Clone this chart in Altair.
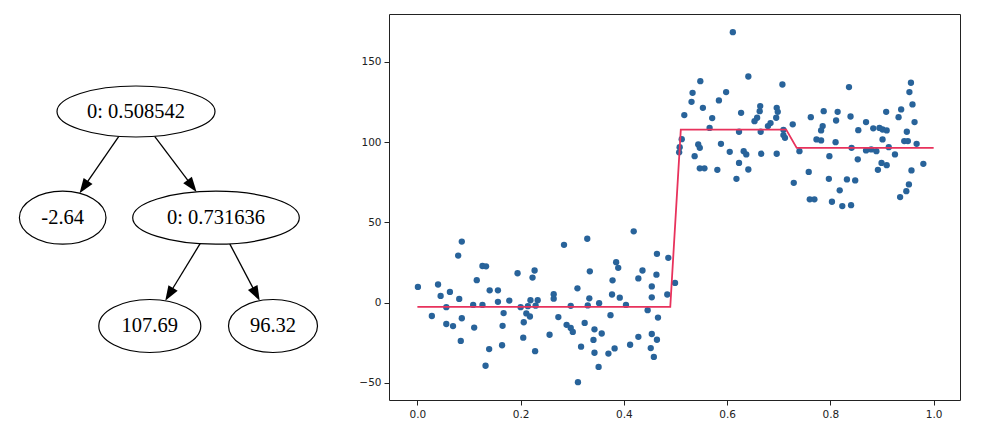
import math
import altair as alt
import pandas as pd

# ---------------- scatter data ----------------
left_x = [0.001, 0.028, 0.040, 0.045, 0.056, 0.056, 0.063, 0.069, 0.079, 0.081,
          0.086, 0.084, 0.086, 0.108, 0.110, 0.115, 0.126, 0.126, 0.133, 0.132,
          0.139, 0.140, 0.156, 0.156, 0.164, 0.167, 0.165, 0.178, 0.194, 0.200,
          0.205, 0.206, 0.211, 0.219, 0.223, 0.227, 0.218, 0.228, 0.233, 0.229,
          0.214, 0.256, 0.264, 0.264, 0.273, 0.284, 0.289, 0.297, 0.297, 0.301,
          0.310, 0.311, 0.317, 0.324, 0.329, 0.334, 0.333, 0.330, 0.343, 0.341,
          0.343, 0.352, 0.351, 0.357, 0.370, 0.374, 0.378, 0.377, 0.382, 0.385,
          0.389, 0.392, 0.404, 0.412, 0.419, 0.428, 0.428, 0.436, 0.446, 0.452,
          0.454, 0.454, 0.454, 0.458, 0.463, 0.464, 0.464, 0.466, 0.484, 0.486,
          0.499]
left_y = [9.8, -8.3, 11.3, 4.2, -2.8, -13.3, 6.7, -14.6, 29.3, 2.3,
          38.0, -23.8, -9.7, -1.4, -15.5, 14.0, -1.4, 22.8, 22.6, -39.3,
          -28.9, 7.7, 7.7, 0.5, -26.5, -6.5, -14.4, 1.3, 18.3, -2.8,
          -21.8, -12.2, -6.7, 1.5, 15.6, 20.0, -8.6, -30.2, 1.5, -1.9,
          -2.2, -20.0, 5.3, 2.5, -9.0, 36.0, -13.8, -2.0, -15.7, -18.2,
          8.9, -49.5, -27.4, -12.6, 39.8, 19.5, 2.7, -1.7, -16.6, -23.2,
          -31.2, -0.3, -40.0, -19.2, -31.7, -7.8, 13.9, 5.1, -28.5, 25.2,
          21.7, 3.1, -1.4, -26.2, 44.4, 15.1, -21.3, 20.0, -4.7, -28.3,
          10.1, 3.3, -19.5, -33.8, 17.4, 30.4, -23.1, -9.3, 5.1, 27.9,
          12.3]

right_x = [0.611, 0.548, 0.641, 0.533, 0.531, 0.598, 0.584, 0.553, 0.517, 0.571,
           0.627, 0.664, 0.663, 0.658, 0.653, 0.707, 0.696, 0.698, 0.695, 0.684,
           0.679, 0.727, 0.566, 0.512, 0.508, 0.507, 0.623, 0.665, 0.709, 0.709,
           0.712, 0.544, 0.547, 0.537, 0.588, 0.605, 0.632, 0.637, 0.666, 0.696,
           0.623, 0.547, 0.556, 0.581, 0.641, 0.618, 0.740, 0.729, 0.758, 0.762,
           0.787, 0.814, 0.811, 0.785, 0.782, 0.839, 0.836, 0.773, 0.782, 0.810,
           0.854, 0.869, 0.798, 0.841, 0.853, 0.869, 0.879, 0.889, 0.883, 0.895,
           0.901, 0.909, 0.901, 0.913, 0.925, 0.908, 0.932, 0.937, 0.956, 0.953,
           0.959, 0.963, 0.948, 0.943, 0.950, 0.967, 0.760, 0.769, 0.803, 0.823,
           0.840, 0.818, 0.797, 0.832, 0.848, 0.892, 0.899, 0.909, 0.957, 0.980,
           0.952, 0.947, 0.935]
right_y = [168.4, 137.9, 140.8, 130.6, 125.0, 131.1, 125.9, 121.3, 116.8, 114.9,
           118.2, 122.4, 119.2, 115.1, 113.0, 135.8, 121.3, 118.8, 115.1, 111.8,
           109.9, 111.0, 108.8, 101.8, 96.8, 93.6, 106.4, 106.4, 107.6, 104.3,
           102.6, 98.5, 96.4, 91.2, 98.9, 93.9, 94.3, 92.3, 92.7, 92.7,
           87.0, 83.6, 83.6, 82.7, 82.9, 77.1, 94.3, 74.6, 81.4, 115.5,
           119.2, 118.8, 113.4, 109.9, 107.2, 115.9, 134.2, 101.6, 101.0, 99.9,
           107.4, 112.4, 91.2, 96.4, 89.2, 94.8, 95.4, 94.3, 108.5, 108.8,
           107.8, 107.2, 101.6, 96.8, 92.3, 118.8, 115.5, 120.3, 136.9, 131.1,
           123.4, 112.4, 106.4, 100.6, 100.6, 98.9, 64.3, 64.3, 62.8, 60.1,
           60.7, 69.9, 77.1, 76.7, 76.1, 82.7, 87.0, 85.6, 82.3, 86.4,
           73.6, 69.4, 65.7]

# fitted tree prediction (step line)
line_x = [0.0, 0.4898, 0.5102, 0.7143, 0.7347, 1.0]
line_y = [-2.64, -2.64, 107.69, 107.69, 96.32, 96.32]

x_ticks = [0.0, 0.2, 0.4, 0.6, 0.8, 1.0]
y_ticks = [-50, 0, 50, 100, 150]

# ---------------- tree diagram ----------------
node_labels = ["0: 0.508542", "-2.64", "0: 0.731636", "107.69", "96.32"]
node_cx = [135, 61.7, 215, 148.8, 272]
node_cy = [110.5, 216.7, 216.7, 325, 325]
node_rx = [79, 43.3, 83.3, 51, 44.5]
node_ry = [25.5, 26.5, 26.5, 26.5, 26.5]
edge_parent = [0, 0, 2, 2]
edge_child = [1, 2, 3, 4]

ARROW_LEN = 15.0


def ellipse_path(a):
    k = 0.5523
    return (f"M -1 0 C -1 {-a*k:.4f} {-k} {-a:.4f} 0 {-a:.4f} "
            f"C {k} {-a:.4f} 1 {-a*k:.4f} 1 0 "
            f"C 1 {a*k:.4f} {k} {a:.4f} 0 {a:.4f} "
            f"C {-k} {a:.4f} -1 {a*k:.4f} -1 0 Z")


nodes = pd.DataFrame({
    "label": node_labels,
    "cx": node_cx,
    "cy": node_cy,
    "shape": [ellipse_path(ry / rx) for rx, ry in zip(node_rx, node_ry)],
    "size": [(2 * rx) ** 2 for rx in node_rx],
})


def boundary(i, dx, dy):
    t = 1.0 / math.sqrt((dx / node_rx[i]) ** 2 + (dy / node_ry[i]) ** 2)
    return node_cx[i] + t * dx, node_cy[i] + t * dy


rows = []
for p, c in zip(edge_parent, edge_child):
    dx = node_cx[c] - node_cx[p]
    dy = node_cy[c] - node_cy[p]
    sx, sy = boundary(p, dx, dy)
    tx, ty = boundary(c, -dx, -dy)
    L = math.hypot(dx, dy)
    ux, uy = dx / L, dy / L
    rows.append({
        "sx": sx, "sy": sy,
        "ex": tx - ux * ARROW_LEN * 0.8, "ey": ty - uy * ARROW_LEN * 0.8,
        "tx": tx, "ty": ty,
        "angle": math.degrees(math.atan2(-dx, dy)) % 360,
    })
edges = pd.DataFrame(rows)

TW, TH = 330, 386
tx_scale = alt.Scale(domain=[13, 13 + TW], nice=False, zero=False)
ty_scale = alt.Scale(domain=[13 + TH, 13], nice=False, zero=False)

edge_lines = alt.Chart(edges).mark_rule(color="black", strokeWidth=1.3).encode(
    x=alt.X("sx:Q", scale=tx_scale, axis=None),
    y=alt.Y("sy:Q", scale=ty_scale, axis=None),
    x2="ex:Q", y2="ey:Q",
)
# path unit = sqrt(size)/2 px; path length is 2 units -> length = sqrt(size)
arrow_heads = alt.Chart(edges).mark_point(
    shape="M 0 0 L -0.72 -2 L 0.72 -2 Z", size=(ARROW_LEN) ** 2,
    filled=True, color="black", opacity=1, strokeWidth=1,
).encode(
    x=alt.X("tx:Q", scale=tx_scale, axis=None),
    y=alt.Y("ty:Q", scale=ty_scale, axis=None),
    angle=alt.Angle("angle:Q", scale=None),
)
ellipses = alt.Chart(nodes).mark_point(
    filled=False, stroke="black", strokeWidth=1.2, fill="white", fillOpacity=1, opacity=1,
).encode(
    x=alt.X("cx:Q", scale=tx_scale, axis=None),
    y=alt.Y("cy:Q", scale=ty_scale, axis=None),
    shape=alt.Shape("shape:N", scale=None),
    size=alt.Size("size:Q", scale=None),
)
labels = alt.Chart(nodes).mark_text(
    font="Liberation Serif", fontSize=20.5, color="black", align="center", baseline="middle",
).encode(
    x=alt.X("cx:Q", scale=tx_scale, axis=None),
    y=alt.Y("cy:Q", scale=ty_scale, axis=None),
    text="label:N",
)
tree = alt.layer(edge_lines, arrow_heads, ellipses, labels).properties(
    width=TW, height=TH,
    view=alt.ViewBackground(stroke="transparent"),
)

# ---------------- scatter + step line ----------------
pts = pd.DataFrame({"x": left_x + right_x, "y": left_y + right_y})
line_df = pd.DataFrame({"x": line_x, "y": line_y, "order": list(range(len(line_x)))})

sx_scale = alt.Scale(domain=[-0.055, 1.051], nice=False, zero=False)
sy_scale = alt.Scale(domain=[-60.6, 179.7], nice=False, zero=False)

x_axis = alt.Axis(values=x_ticks, format=".1f", title=None, grid=False, domain=False,
                  tickSize=5, tickColor="#222", labelPadding=4)
y_axis = alt.Axis(values=y_ticks, format="d", title=None, grid=False, domain=False,
                  tickSize=5, tickColor="#222", labelPadding=3,
                  minExtent=31, maxExtent=31)

scatter = alt.Chart(pts).mark_circle(size=40, color="#28639a", opacity=1).encode(
    x=alt.X("x:Q", scale=sx_scale, axis=x_axis),
    y=alt.Y("y:Q", scale=sy_scale, axis=y_axis),
)
step = alt.Chart(line_df).mark_line(color="#e8325c", strokeWidth=1.8).encode(
    x=alt.X("x:Q", scale=sx_scale, axis=x_axis),
    y=alt.Y("y:Q", scale=sy_scale, axis=y_axis),
    order="order:Q",
)
plot = alt.layer(scatter, step).properties(
    width=571, height=386,
    view=alt.ViewBackground(stroke="#222", strokeWidth=1),
)

chart = alt.hconcat(tree, plot, spacing=12).configure_axis(
    labelFont="DejaVu Sans", labelFontSize=10.5, labelColor="#222",
).configure_view(stroke="transparent")

chart.save("out.html", embed_options={"renderer": "svg", "actions": False})
